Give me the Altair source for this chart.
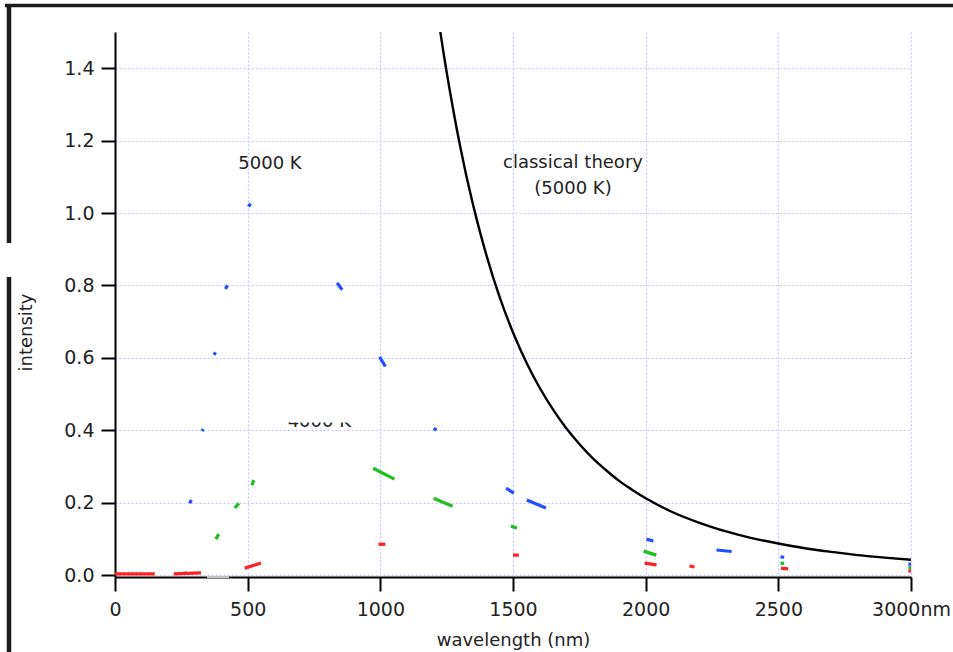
import altair as alt
import pandas as pd

# axis ticks
wavelength_ticks = [0, 500, 1000, 1500, 2000, 2500, 3000]
intensity_ticks = [0.0, 0.2, 0.4, 0.6, 0.8, 1.0, 1.2, 1.4]

# surviving pieces of each blackbody curve: (nm start, I start, nm end, I end)
blue_5000 = [
    (503, 1.018, 511, 1.026),
    (416, 0.790, 424, 0.800),
    (373, 0.608, 379, 0.615),
    (328, 0.398, 333, 0.403),
    (281, 0.198, 288, 0.207),
    (837, 0.807, 856, 0.788),
    (997, 0.603, 1019, 0.576),
    (1201, 0.405, 1212, 0.400),
    (1474, 0.240, 1503, 0.226),
    (1552, 0.207, 1624, 0.185),
    (2003, 0.099, 2029, 0.094),
    (2267, 0.069, 2324, 0.065),
    (2508, 0.050, 2522, 0.049),
    (2990, 0.030, 3000, 0.030),
]
green_4000 = [
    (516, 0.248, 523, 0.262),
    (451, 0.185, 467, 0.198),
    (380, 0.099, 391, 0.113),
    (262, 0.005, 270, 0.006),
    (973, 0.295, 1053, 0.265),
    (1201, 0.212, 1272, 0.190),
    (1492, 0.135, 1515, 0.130),
    (1992, 0.066, 2040, 0.055),
    (2508, 0.033, 2522, 0.032),
    (2990, 0.020, 3000, 0.020),
]
red_3000 = [
    (0, 0.003, 150, 0.003),
    (221, 0.003, 324, 0.006),
    (489, 0.019, 550, 0.033),
    (993, 0.085, 1019, 0.085),
    (1500, 0.055, 1522, 0.055),
    (1996, 0.033, 2041, 0.028),
    (2165, 0.025, 2184, 0.022),
    (2510, 0.019, 2537, 0.017),
    (2990, 0.011, 3000, 0.011),
]

# Rayleigh-Jeans (classical) curve at 5000 K
classical_nm = [1225, 1250, 1300, 1350, 1400, 1450, 1500, 1550, 1600, 1650,
                1700, 1750, 1800, 1850, 1900, 1950, 2000, 2100, 2200, 2300,
                2400, 2500, 2600, 2700, 2800, 2900, 3000]
classical_intensity = [1.506, 1.389, 1.187, 1.021, 0.883, 0.767, 0.670, 0.588, 0.518, 0.458,
                       0.406, 0.362, 0.323, 0.290, 0.260, 0.235, 0.212, 0.174, 0.145, 0.121,
                       0.102, 0.087, 0.074, 0.064, 0.055, 0.048, 0.042]

series_names = ["5000 K", "4000 K", "3000 K"]
series_colors = ["#1f4fff", "#1fbf1f", "#ff2020"]

labels = pd.DataFrame({
    "nm": [584, 1726, 1726],
    "I": [1.135, 1.138, 1.066],
    "text": ["5000 K", "classical theory", "(5000 K)"],
})

rows = []
for name, pieces in zip(series_names, [blue_5000, green_4000, red_3000]):
    for l0, v0, l1, v1 in pieces:
        rows.append({"series": name, "l0": l0, "v0": v0, "l1": l1, "v1": v1})
pieces_df = pd.DataFrame(rows)
classical_df = pd.DataFrame({"nm": classical_nm, "I": classical_intensity})

FONT = "DejaVu Sans"
x_scale = alt.Scale(domain=[0, 3000], nice=False)
y_scale = alt.Scale(domain=[-0.0055, 1.5], nice=False)

x_axis = alt.Axis(
    values=wavelength_ticks, format="d", title="wavelength (nm)",
    labelExpr="datum.value == 3000 ? '3000nm' : datum.label",
    labelFlush=False,
    labelFontSize=19, labelPadding=9, titleFontSize=18, titlePadding=12,
)
y_axis = alt.Axis(
    values=intensity_ticks, format=".1f", title="intensity",
    labelFlush=False,
    labelFontSize=19, labelPadding=7, titleFontSize=18,
    titleX=-89, titleY=300, titleBaseline="middle", titleAlign="center",
)

# empty layer carrying the axes and grid
axes = alt.Chart(classical_df).mark_point(opacity=0).encode(
    x=alt.X("nm:Q", scale=x_scale, axis=x_axis),
    y=alt.Y("I:Q", scale=y_scale, axis=y_axis),
)

pieces = alt.Chart(pieces_df).mark_rule(strokeWidth=3.2, strokeCap="butt").encode(
    x=alt.X("l0:Q", scale=x_scale),
    x2="l1:Q",
    y=alt.Y("v0:Q", scale=y_scale),
    y2="v1:Q",
    color=alt.Color("series:N", scale=alt.Scale(domain=series_names, range=series_colors), legend=None),
)

classical = alt.Chart(classical_df).mark_line(
    color="black", strokeWidth=2.4, interpolate="natural", clip=True
).encode(x=alt.X("nm:Q", scale=x_scale), y=alt.Y("I:Q", scale=y_scale))

text = alt.Chart(labels).mark_text(font=FONT, fontSize=18, color="#222222").encode(
    x=alt.X("nm:Q", scale=x_scale), y=alt.Y("I:Q", scale=y_scale), text="text:N"
)

# the 4000 K label, whose upper part is hidden under a white patch
label_4000 = alt.Chart(pd.DataFrame({"nm": [770], "I": [0.408], "text": ["4000 K"]})).mark_text(
    font=FONT, fontSize=18, color="#222222", baseline="alphabetic"
).encode(x=alt.X("nm:Q", scale=x_scale), y=alt.Y("I:Q", scale=y_scale), text="text:N")
patch = alt.Chart(pd.DataFrame({"a": [640], "b": [910], "c": [0.4216], "d": [0.48]})).mark_rect(
    color="white"
).encode(x=alt.X("a:Q", scale=x_scale), x2="b:Q", y=alt.Y("c:Q", scale=y_scale), y2="d:Q")

one = pd.DataFrame({"k": [0]})
frame_color = "#1c1c1c"
frame_top = alt.Chart(one).mark_rule(color=frame_color, strokeWidth=3.5).encode(
    x=alt.value(-110), x2=alt.value(838), y=alt.value(-26.5)
)
frame_left_a = alt.Chart(one).mark_rule(color=frame_color, strokeWidth=4.5).encode(
    x=alt.value(-106), y=alt.value(-28), y2=alt.value(211)
)
frame_left_b = alt.Chart(one).mark_rule(color=frame_color, strokeWidth=4.5).encode(
    x=alt.value(-106), y=alt.value(245), y2=alt.value(620)
)
axis_gap = alt.Chart(one).mark_rule(color="#c4c4c4", strokeWidth=2).encode(
    x=alt.value(92), x2=alt.value(114), y=alt.value(545)
)

chart = alt.layer(
    axes, pieces, classical, text, label_4000, patch,
    frame_top, frame_left_a, frame_left_b, axis_gap,
).properties(
    width=796, height=545,
    autosize=alt.AutoSizeParams(type="none"),
    padding={"left": 115, "top": 32, "right": 42, "bottom": 75},
    background="white",
).configure_view(stroke=None).configure_axis(
    labelFont=FONT, titleFont=FONT, labelColor="#222222", titleColor="#222222",
    titleFontWeight="normal",
    domainColor="black", domainWidth=2, tickColor="black", tickWidth=2, tickSize=14,
    gridColor="#c4c4ff", gridDash=[2, 2], gridWidth=1.2,
)

chart.save("out.html", embed_options={"renderer": "svg", "actions": False})
